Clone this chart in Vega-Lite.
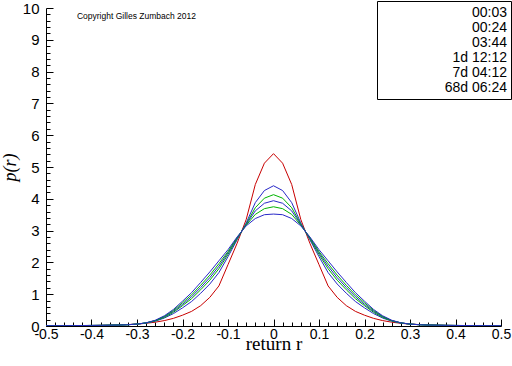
{
  "$schema": "https://vega.github.io/schema/vega-lite/v6.json",
  "width": 455,
  "height": 318,
  "autosize": {"type": "none"},
  "padding": {"left": 46, "top": 8, "right": 11, "bottom": 40},
  "background": "white",
  "config": {
    "view": {"stroke": null},
    "font": "Liberation Sans"
  },
  "layer": [
    {
      "data": {"values": [
        {"s":"00:03","x":-0.5,"p":0.005},{"s":"00:03","x":-0.48,"p":0.006},{"s":"00:03","x":-0.46,"p":0.008},{"s":"00:03","x":-0.44,"p":0.01},{"s":"00:03","x":-0.42,"p":0.012},{"s":"00:03","x":-0.4,"p":0.015},{"s":"00:03","x":-0.38,"p":0.02},{"s":"00:03","x":-0.36,"p":0.025},{"s":"00:03","x":-0.34,"p":0.033},{"s":"00:03","x":-0.32,"p":0.045},{"s":"00:03","x":-0.3,"p":0.06},{"s":"00:03","x":-0.28,"p":0.085},{"s":"00:03","x":-0.26,"p":0.12},{"s":"00:03","x":-0.24,"p":0.17},{"s":"00:03","x":-0.22,"p":0.24},{"s":"00:03","x":-0.2,"p":0.34},{"s":"00:03","x":-0.18,"p":0.46},{"s":"00:03","x":-0.16,"p":0.64},{"s":"00:03","x":-0.14,"p":0.9},{"s":"00:03","x":-0.12,"p":1.26},{"s":"00:03","x":-0.1,"p":1.93},{"s":"00:03","x":-0.08,"p":2.6},{"s":"00:03","x":-0.06,"p":3.35},{"s":"00:03","x":-0.04,"p":4.45},{"s":"00:03","x":-0.02,"p":5.12},{"s":"00:03","x":0,"p":5.42},{"s":"00:03","x":0.02,"p":5.12},{"s":"00:03","x":0.04,"p":4.45},{"s":"00:03","x":0.06,"p":3.35},{"s":"00:03","x":0.08,"p":2.6},{"s":"00:03","x":0.1,"p":1.93},{"s":"00:03","x":0.12,"p":1.26},{"s":"00:03","x":0.14,"p":0.9},{"s":"00:03","x":0.16,"p":0.64},{"s":"00:03","x":0.18,"p":0.46},{"s":"00:03","x":0.2,"p":0.34},{"s":"00:03","x":0.22,"p":0.24},{"s":"00:03","x":0.24,"p":0.17},{"s":"00:03","x":0.26,"p":0.12},{"s":"00:03","x":0.28,"p":0.085},{"s":"00:03","x":0.3,"p":0.06},{"s":"00:03","x":0.32,"p":0.045},{"s":"00:03","x":0.34,"p":0.033},{"s":"00:03","x":0.36,"p":0.025},{"s":"00:03","x":0.38,"p":0.02},{"s":"00:03","x":0.4,"p":0.015},{"s":"00:03","x":0.42,"p":0.012},{"s":"00:03","x":0.44,"p":0.01},{"s":"00:03","x":0.46,"p":0.008},{"s":"00:03","x":0.48,"p":0.006},{"s":"00:03","x":0.5,"p":0.005},
        {"s":"00:24","x":-0.5,"p":0.008},{"s":"00:24","x":-0.48,"p":0.009},{"s":"00:24","x":-0.46,"p":0.01},{"s":"00:24","x":-0.44,"p":0.012},{"s":"00:24","x":-0.42,"p":0.014},{"s":"00:24","x":-0.4,"p":0.017},{"s":"00:24","x":-0.38,"p":0.02},{"s":"00:24","x":-0.36,"p":0.025},{"s":"00:24","x":-0.34,"p":0.031},{"s":"00:24","x":-0.32,"p":0.042},{"s":"00:24","x":-0.3,"p":0.06},{"s":"00:24","x":-0.28,"p":0.093},{"s":"00:24","x":-0.26,"p":0.15},{"s":"00:24","x":-0.24,"p":0.25},{"s":"00:24","x":-0.22,"p":0.39},{"s":"00:24","x":-0.2,"p":0.57},{"s":"00:24","x":-0.18,"p":0.77},{"s":"00:24","x":-0.16,"p":1.03},{"s":"00:24","x":-0.14,"p":1.32},{"s":"00:24","x":-0.12,"p":1.68},{"s":"00:24","x":-0.1,"p":2.18},{"s":"00:24","x":-0.08,"p":2.71},{"s":"00:24","x":-0.06,"p":3.24},{"s":"00:24","x":-0.04,"p":3.88},{"s":"00:24","x":-0.02,"p":4.26},{"s":"00:24","x":0,"p":4.41},{"s":"00:24","x":0.02,"p":4.26},{"s":"00:24","x":0.04,"p":3.88},{"s":"00:24","x":0.06,"p":3.24},{"s":"00:24","x":0.08,"p":2.71},{"s":"00:24","x":0.1,"p":2.18},{"s":"00:24","x":0.12,"p":1.68},{"s":"00:24","x":0.14,"p":1.32},{"s":"00:24","x":0.16,"p":1.03},{"s":"00:24","x":0.18,"p":0.77},{"s":"00:24","x":0.2,"p":0.57},{"s":"00:24","x":0.22,"p":0.39},{"s":"00:24","x":0.24,"p":0.25},{"s":"00:24","x":0.26,"p":0.15},{"s":"00:24","x":0.28,"p":0.093},{"s":"00:24","x":0.3,"p":0.06},{"s":"00:24","x":0.32,"p":0.042},{"s":"00:24","x":0.34,"p":0.031},{"s":"00:24","x":0.36,"p":0.025},{"s":"00:24","x":0.38,"p":0.02},{"s":"00:24","x":0.4,"p":0.017},{"s":"00:24","x":0.42,"p":0.014},{"s":"00:24","x":0.44,"p":0.012},{"s":"00:24","x":0.46,"p":0.01},{"s":"00:24","x":0.48,"p":0.009},{"s":"00:24","x":0.5,"p":0.008},
        {"s":"03:44","x":-0.5,"p":0.008},{"s":"03:44","x":-0.48,"p":0.009},{"s":"03:44","x":-0.46,"p":0.011},{"s":"03:44","x":-0.44,"p":0.012},{"s":"03:44","x":-0.42,"p":0.014},{"s":"03:44","x":-0.4,"p":0.017},{"s":"03:44","x":-0.38,"p":0.02},{"s":"03:44","x":-0.36,"p":0.025},{"s":"03:44","x":-0.34,"p":0.031},{"s":"03:44","x":-0.32,"p":0.041},{"s":"03:44","x":-0.3,"p":0.06},{"s":"03:44","x":-0.28,"p":0.095},{"s":"03:44","x":-0.26,"p":0.16},{"s":"03:44","x":-0.24,"p":0.27},{"s":"03:44","x":-0.22,"p":0.43},{"s":"03:44","x":-0.2,"p":0.64},{"s":"03:44","x":-0.18,"p":0.86},{"s":"03:44","x":-0.16,"p":1.14},{"s":"03:44","x":-0.14,"p":1.44},{"s":"03:44","x":-0.12,"p":1.8},{"s":"03:44","x":-0.1,"p":2.25},{"s":"03:44","x":-0.08,"p":2.74},{"s":"03:44","x":-0.06,"p":3.21},{"s":"03:44","x":-0.04,"p":3.72},{"s":"03:44","x":-0.02,"p":4.02},{"s":"03:44","x":0,"p":4.13},{"s":"03:44","x":0.02,"p":4.02},{"s":"03:44","x":0.04,"p":3.72},{"s":"03:44","x":0.06,"p":3.21},{"s":"03:44","x":0.08,"p":2.74},{"s":"03:44","x":0.1,"p":2.25},{"s":"03:44","x":0.12,"p":1.8},{"s":"03:44","x":0.14,"p":1.44},{"s":"03:44","x":0.16,"p":1.14},{"s":"03:44","x":0.18,"p":0.86},{"s":"03:44","x":0.2,"p":0.64},{"s":"03:44","x":0.22,"p":0.43},{"s":"03:44","x":0.24,"p":0.27},{"s":"03:44","x":0.26,"p":0.16},{"s":"03:44","x":0.28,"p":0.095},{"s":"03:44","x":0.3,"p":0.06},{"s":"03:44","x":0.32,"p":0.041},{"s":"03:44","x":0.34,"p":0.031},{"s":"03:44","x":0.36,"p":0.025},{"s":"03:44","x":0.38,"p":0.02},{"s":"03:44","x":0.4,"p":0.017},{"s":"03:44","x":0.42,"p":0.014},{"s":"03:44","x":0.44,"p":0.012},{"s":"03:44","x":0.46,"p":0.011},{"s":"03:44","x":0.48,"p":0.009},{"s":"03:44","x":0.5,"p":0.008},
        {"s":"1d 12:12","x":-0.5,"p":0.009},{"s":"1d 12:12","x":-0.48,"p":0.01},{"s":"1d 12:12","x":-0.46,"p":0.011},{"s":"1d 12:12","x":-0.44,"p":0.012},{"s":"1d 12:12","x":-0.42,"p":0.014},{"s":"1d 12:12","x":-0.4,"p":0.017},{"s":"1d 12:12","x":-0.38,"p":0.02},{"s":"1d 12:12","x":-0.36,"p":0.025},{"s":"1d 12:12","x":-0.34,"p":0.03},{"s":"1d 12:12","x":-0.32,"p":0.041},{"s":"1d 12:12","x":-0.3,"p":0.06},{"s":"1d 12:12","x":-0.28,"p":0.097},{"s":"1d 12:12","x":-0.26,"p":0.17},{"s":"1d 12:12","x":-0.24,"p":0.29},{"s":"1d 12:12","x":-0.22,"p":0.46},{"s":"1d 12:12","x":-0.2,"p":0.68},{"s":"1d 12:12","x":-0.18,"p":0.92},{"s":"1d 12:12","x":-0.16,"p":1.21},{"s":"1d 12:12","x":-0.14,"p":1.52},{"s":"1d 12:12","x":-0.12,"p":1.88},{"s":"1d 12:12","x":-0.1,"p":2.3},{"s":"1d 12:12","x":-0.08,"p":2.76},{"s":"1d 12:12","x":-0.06,"p":3.19},{"s":"1d 12:12","x":-0.04,"p":3.62},{"s":"1d 12:12","x":-0.02,"p":3.86},{"s":"1d 12:12","x":0,"p":3.94},{"s":"1d 12:12","x":0.02,"p":3.86},{"s":"1d 12:12","x":0.04,"p":3.62},{"s":"1d 12:12","x":0.06,"p":3.19},{"s":"1d 12:12","x":0.08,"p":2.76},{"s":"1d 12:12","x":0.1,"p":2.3},{"s":"1d 12:12","x":0.12,"p":1.88},{"s":"1d 12:12","x":0.14,"p":1.52},{"s":"1d 12:12","x":0.16,"p":1.21},{"s":"1d 12:12","x":0.18,"p":0.92},{"s":"1d 12:12","x":0.2,"p":0.68},{"s":"1d 12:12","x":0.22,"p":0.46},{"s":"1d 12:12","x":0.24,"p":0.29},{"s":"1d 12:12","x":0.26,"p":0.17},{"s":"1d 12:12","x":0.28,"p":0.097},{"s":"1d 12:12","x":0.3,"p":0.06},{"s":"1d 12:12","x":0.32,"p":0.041},{"s":"1d 12:12","x":0.34,"p":0.03},{"s":"1d 12:12","x":0.36,"p":0.025},{"s":"1d 12:12","x":0.38,"p":0.02},{"s":"1d 12:12","x":0.4,"p":0.017},{"s":"1d 12:12","x":0.42,"p":0.014},{"s":"1d 12:12","x":0.44,"p":0.012},{"s":"1d 12:12","x":0.46,"p":0.011},{"s":"1d 12:12","x":0.48,"p":0.01},{"s":"1d 12:12","x":0.5,"p":0.009},
        {"s":"7d 04:12","x":-0.5,"p":0.009},{"s":"7d 04:12","x":-0.48,"p":0.01},{"s":"7d 04:12","x":-0.46,"p":0.012},{"s":"7d 04:12","x":-0.44,"p":0.013},{"s":"7d 04:12","x":-0.42,"p":0.015},{"s":"7d 04:12","x":-0.4,"p":0.018},{"s":"7d 04:12","x":-0.38,"p":0.02},{"s":"7d 04:12","x":-0.36,"p":0.025},{"s":"7d 04:12","x":-0.34,"p":0.03},{"s":"7d 04:12","x":-0.32,"p":0.04},{"s":"7d 04:12","x":-0.3,"p":0.06},{"s":"7d 04:12","x":-0.28,"p":0.098},{"s":"7d 04:12","x":-0.26,"p":0.17},{"s":"7d 04:12","x":-0.24,"p":0.3},{"s":"7d 04:12","x":-0.22,"p":0.49},{"s":"7d 04:12","x":-0.2,"p":0.73},{"s":"7d 04:12","x":-0.18,"p":0.98},{"s":"7d 04:12","x":-0.16,"p":1.28},{"s":"7d 04:12","x":-0.14,"p":1.6},{"s":"7d 04:12","x":-0.12,"p":1.96},{"s":"7d 04:12","x":-0.1,"p":2.34},{"s":"7d 04:12","x":-0.08,"p":2.78},{"s":"7d 04:12","x":-0.06,"p":3.17},{"s":"7d 04:12","x":-0.04,"p":3.51},{"s":"7d 04:12","x":-0.02,"p":3.69},{"s":"7d 04:12","x":0,"p":3.75},{"s":"7d 04:12","x":0.02,"p":3.69},{"s":"7d 04:12","x":0.04,"p":3.51},{"s":"7d 04:12","x":0.06,"p":3.17},{"s":"7d 04:12","x":0.08,"p":2.78},{"s":"7d 04:12","x":0.1,"p":2.34},{"s":"7d 04:12","x":0.12,"p":1.96},{"s":"7d 04:12","x":0.14,"p":1.6},{"s":"7d 04:12","x":0.16,"p":1.28},{"s":"7d 04:12","x":0.18,"p":0.98},{"s":"7d 04:12","x":0.2,"p":0.73},{"s":"7d 04:12","x":0.22,"p":0.49},{"s":"7d 04:12","x":0.24,"p":0.3},{"s":"7d 04:12","x":0.26,"p":0.17},{"s":"7d 04:12","x":0.28,"p":0.098},{"s":"7d 04:12","x":0.3,"p":0.06},{"s":"7d 04:12","x":0.32,"p":0.04},{"s":"7d 04:12","x":0.34,"p":0.03},{"s":"7d 04:12","x":0.36,"p":0.025},{"s":"7d 04:12","x":0.38,"p":0.02},{"s":"7d 04:12","x":0.4,"p":0.018},{"s":"7d 04:12","x":0.42,"p":0.015},{"s":"7d 04:12","x":0.44,"p":0.013},{"s":"7d 04:12","x":0.46,"p":0.012},{"s":"7d 04:12","x":0.48,"p":0.01},{"s":"7d 04:12","x":0.5,"p":0.009},
        {"s":"68d 06:24","x":-0.5,"p":0.01},{"s":"68d 06:24","x":-0.48,"p":0.011},{"s":"68d 06:24","x":-0.46,"p":0.012},{"s":"68d 06:24","x":-0.44,"p":0.013},{"s":"68d 06:24","x":-0.42,"p":0.015},{"s":"68d 06:24","x":-0.4,"p":0.018},{"s":"68d 06:24","x":-0.38,"p":0.02},{"s":"68d 06:24","x":-0.36,"p":0.025},{"s":"68d 06:24","x":-0.34,"p":0.03},{"s":"68d 06:24","x":-0.32,"p":0.04},{"s":"68d 06:24","x":-0.3,"p":0.06},{"s":"68d 06:24","x":-0.28,"p":0.1},{"s":"68d 06:24","x":-0.26,"p":0.18},{"s":"68d 06:24","x":-0.24,"p":0.32},{"s":"68d 06:24","x":-0.22,"p":0.52},{"s":"68d 06:24","x":-0.2,"p":0.78},{"s":"68d 06:24","x":-0.18,"p":1.05},{"s":"68d 06:24","x":-0.16,"p":1.37},{"s":"68d 06:24","x":-0.14,"p":1.7},{"s":"68d 06:24","x":-0.12,"p":2.05},{"s":"68d 06:24","x":-0.1,"p":2.4},{"s":"68d 06:24","x":-0.08,"p":2.8},{"s":"68d 06:24","x":-0.06,"p":3.15},{"s":"68d 06:24","x":-0.04,"p":3.38},{"s":"68d 06:24","x":-0.02,"p":3.5},{"s":"68d 06:24","x":0,"p":3.52},{"s":"68d 06:24","x":0.02,"p":3.5},{"s":"68d 06:24","x":0.04,"p":3.38},{"s":"68d 06:24","x":0.06,"p":3.15},{"s":"68d 06:24","x":0.08,"p":2.8},{"s":"68d 06:24","x":0.1,"p":2.4},{"s":"68d 06:24","x":0.12,"p":2.05},{"s":"68d 06:24","x":0.14,"p":1.7},{"s":"68d 06:24","x":0.16,"p":1.37},{"s":"68d 06:24","x":0.18,"p":1.05},{"s":"68d 06:24","x":0.2,"p":0.78},{"s":"68d 06:24","x":0.22,"p":0.52},{"s":"68d 06:24","x":0.24,"p":0.32},{"s":"68d 06:24","x":0.26,"p":0.18},{"s":"68d 06:24","x":0.28,"p":0.1},{"s":"68d 06:24","x":0.3,"p":0.06},{"s":"68d 06:24","x":0.32,"p":0.04},{"s":"68d 06:24","x":0.34,"p":0.03},{"s":"68d 06:24","x":0.36,"p":0.025},{"s":"68d 06:24","x":0.38,"p":0.02},{"s":"68d 06:24","x":0.4,"p":0.018},{"s":"68d 06:24","x":0.42,"p":0.015},{"s":"68d 06:24","x":0.44,"p":0.013},{"s":"68d 06:24","x":0.46,"p":0.012},{"s":"68d 06:24","x":0.48,"p":0.011},{"s":"68d 06:24","x":0.5,"p":0.01}
      ]},
      "mark": {"type": "line", "strokeWidth": 1, "clip": true},
      "encoding": {
        "x": {
          "field": "x", "type": "quantitative",
          "scale": {"domain": [-0.5, 0.5], "nice": false, "zero": false},
          "axis": {
            "title": "return  r",
            "titleFont": "Liberation Serif", "titleFontSize": 19, "titleFontWeight": "normal", "titleColor": "black", "titlePadding": -10,
            "values": [-0.5,-0.48,-0.46,-0.44,-0.42,-0.4,-0.38,-0.36,-0.34,-0.32,-0.3,-0.28,-0.26,-0.24,-0.22,-0.2,-0.18,-0.16,-0.14,-0.12,-0.1,-0.08,-0.06,-0.04,-0.02,0,0.02,0.04,0.06,0.08,0.1,0.12,0.14,0.16,0.18,0.2,0.22,0.24,0.26,0.28,0.3,0.32,0.34,0.36,0.38,0.4,0.42,0.44,0.46,0.48,0.5],
            "tickCount": 200,
            "labelExpr": "abs(datum.value*10 - round(datum.value*10)) > 0.001 ? '' : (datum.value < 0 ? '-' + format(-datum.value, '.1~f') : format(datum.value, '.1~f'))",
            "labelFont": "Liberation Sans", "labelFontSize": 14, "labelColor": "black", "labelPadding": 8, "labelFlush": false, "labelOverlap": false,
            "tickSize": {"condition": {"test": "abs(datum.value*10 - round(datum.value*10)) < 0.001", "value": -7}, "value": -4},
            "tickColor": "black", "domainColor": "black", "grid": false
          }
        },
        "y": {
          "field": "p", "type": "quantitative",
          "scale": {"domain": [0, 10], "nice": false},
          "axis": {
            "title": "p(r)",
            "titleFont": "Liberation Serif", "titleFontStyle": "italic", "titleFontSize": 18, "titleFontWeight": "normal", "titleColor": "black", "titlePadding": 3,
            "values": [0,0.2,0.4,0.6,0.8,1,1.2,1.4,1.6,1.8,2,2.2,2.4,2.6,2.8,3,3.2,3.4,3.6,3.8,4,4.2,4.4,4.6,4.8,5,5.2,5.4,5.6,5.8,6,6.2,6.4,6.6,6.8,7,7.2,7.4,7.6,7.8,8,8.2,8.4,8.6,8.8,9,9.2,9.4,9.6,9.8,10],
            "tickCount": 200,
            "labelExpr": "abs(datum.value - round(datum.value)) > 0.001 ? '' : format(datum.value, 'd')",
            "labelFont": "Liberation Sans", "labelFontSize": 15, "labelColor": "black", "labelPadding": 14, "labelFlush": false, "labelOverlap": false,
            "tickSize": {"condition": {"test": "abs(datum.value - round(datum.value)) < 0.001", "value": -7}, "value": -4},
            "tickColor": "black", "domainColor": "black", "grid": false
          }
        },
        "color": {
          "field": "s", "type": "nominal",
          "sort": ["00:03","00:24","03:44","1d 12:12","7d 04:12","68d 06:24"],
          "scale": {"domain": ["00:03","00:24","03:44","1d 12:12","7d 04:12","68d 06:24"], "range": ["#c80000","#2828c8","#00b400","#2828c8","#00b400","#2828c8"]},
          "legend": {
            "title": null, "orient": "none", "legendX": 331, "legendY": -7,
            "symbolType": "M-1,-0.065H6.6V0.065H-1Z", "symbolSize": 240, "symbolStrokeWidth": 0,
            "labelFont": "Liberation Sans", "labelFontSize": 14, "labelColor": "black", "labelAlign": "right",
            "labelOffset": 110, "rowPadding": 0,
            "strokeColor": "black", "fillColor": "white", "padding": 4
          }
        }
      }
    },
    {
      "data": {"values": [{"t": "Copyright Gilles Zumbach 2012"}]},
      "mark": {"type": "text", "align": "left", "baseline": "middle", "font": "Liberation Sans", "fontSize": 8.5, "color": "black"},
      "encoding": {
        "x": {"datum": -0.432, "type": "quantitative"},
        "y": {"datum": 9.76, "type": "quantitative"},
        "text": {"field": "t"}
      }
    }
  ]
}
